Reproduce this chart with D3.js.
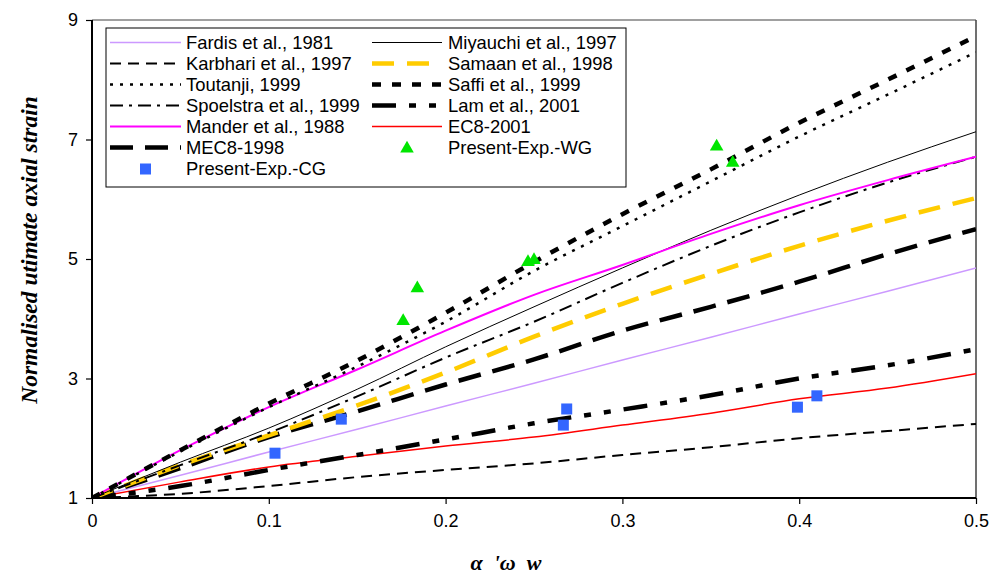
<!DOCTYPE html>
<html><head><meta charset="utf-8">
<script src="https://cdn.jsdelivr.net/npm/d3@7/dist/d3.min.js"></script>
<style>
html,body{margin:0;padding:0;background:#fff;}
svg{display:block;}
</style></head>
<body>
<svg id="chart" width="993" height="576"></svg>
<script>
// ---- data ----
const xValues   = [0, 0.05, 0.1, 0.15, 0.2, 0.25, 0.3, 0.35, 0.4, 0.45, 0.5];
const fardis    = [1, 1.38, 1.77, 2.15, 2.54, 2.92, 3.31, 3.69, 4.08, 4.46, 4.85];
const miyauchi  = [1, 1.6, 2.17, 2.82, 3.53, 4.2, 4.85, 5.48, 6.07, 6.62, 7.13];
const karbhari  = [1, 1.07, 1.2, 1.35, 1.47, 1.58, 1.72, 1.85, 2.0, 2.12, 2.24];
const samaan    = [1, 1.55, 2.05, 2.55, 3.1, 3.7, 4.25, 4.75, 5.22, 5.64, 6.02];
const toutanji  = [1, 1.78, 2.52, 3.2, 3.95, 4.8, 5.55, 6.3, 7.05, 7.75, 8.46];
const saffi     = [1, 1.8, 2.58, 3.3, 4.1, 4.95, 5.75, 6.5, 7.28, 8.0, 8.73];
const spoelstra = [1, 1.55, 2.09, 2.7, 3.35, 3.95, 4.6, 5.22, 5.78, 6.28, 6.71];
const lam       = [1, 1.2, 1.47, 1.72, 1.98, 2.25, 2.48, 2.72, 3.0, 3.22, 3.49];
const mander    = [1, 1.8, 2.52, 3.15, 3.8, 4.4, 4.9, 5.42, 5.9, 6.32, 6.71];
const ec8       = [1, 1.27, 1.52, 1.7, 1.87, 2.02, 2.22, 2.42, 2.66, 2.84, 3.08];
const mec8      = [1, 1.5, 2.02, 2.45, 2.9, 3.32, 3.8, 4.2, 4.62, 5.08, 5.5];

const wgX = [0.176, 0.184, 0.2466, 0.25, 0.3533, 0.3624];
const wgY = [3.96, 4.51, 4.95, 4.98, 6.88, 6.61];
const cgX = [0.1035, 0.141, 0.2666, 0.2685, 0.399, 0.41];
const cgY = [1.75, 2.32, 2.22, 2.49, 2.52, 2.71];

const xTicks = [0, 0.1, 0.2, 0.3, 0.4, 0.5];
const yTicks = [1, 3, 5, 7, 9];

const seriesNames = ["Fardis et al., 1981","Miyauchi et al., 1997","Karbhari et al., 1997","Samaan et al., 1998",
  "Toutanji, 1999","Saffi et al., 1999","Spoelstra et al., 1999","Lam et al., 2001",
  "Mander et al., 1988","EC8-2001","MEC8-1998"];
const seriesValues = [fardis, miyauchi, karbhari, samaan, toutanji, saffi, spoelstra, lam, mander, ec8, mec8];

// ---- styles ----
const styles = {
  "Fardis et al., 1981":   {color:"#CC99FF", width:1.5, dash:null},
  "Miyauchi et al., 1997": {color:"#000000", width:1, dash:null},
  "Karbhari et al., 1997": {color:"#000000", width:2, dash:"11,7"},
  "Samaan et al., 1998":   {color:"#FFCC00", width:4.5, dash:"22,13"},
  "Toutanji, 1999":        {color:"#000000", width:2.5, dash:"3,7"},
  "Saffi et al., 1999":    {color:"#000000", width:4.5, dash:"9,11"},
  "Spoelstra et al., 1999":{color:"#000000", width:2, dash:"13,6,3,6"},
  "Lam et al., 2001":      {color:"#000000", width:4.5, dash:"24,13,7,13,7,13"},
  "Mander et al., 1988":   {color:"#FF00FF", width:2, dash:null},
  "EC8-2001":              {color:"#FF0000", width:1.5, dash:null},
  "MEC8-1998":             {color:"#000000", width:4.5, dash:"23,12"}
};
const drawOrder = ["Fardis et al., 1981","Karbhari et al., 1997","EC8-2001","Lam et al., 2001","MEC8-1998",
  "Samaan et al., 1998","Spoelstra et al., 1999","Miyauchi et al., 1997","Mander et al., 1988",
  "Toutanji, 1999","Saffi et al., 1999"];

const SANS = "'Liberation Sans', Arial, sans-serif";
const SERIF = "'Liberation Serif', 'Times New Roman', serif";

const svg = d3.select("#chart");
const pLeft = 92, pRight = 976, pTop = 20, pBottom = 498;
const x = d3.scaleLinear().domain([0, 0.5]).range([pLeft, pRight]);
const y = d3.scaleLinear().domain([1, 9]).range([pBottom, pTop]);

// frame
svg.append("line").attr("x1",pLeft).attr("x2",pRight).attr("y1",pTop).attr("y2",pTop)
  .attr("stroke","#808080").attr("stroke-width",1.5);
svg.append("line").attr("x1",pRight).attr("x2",pRight).attr("y1",pTop).attr("y2",pBottom)
  .attr("stroke","#404040").attr("stroke-width",1.5);

svg.append("clipPath").attr("id","clip").append("rect")
  .attr("x",pLeft).attr("y",pTop).attr("width",pRight-pLeft).attr("height",pBottom-pTop);

const line = d3.line().x(d=>x(d[0])).y(d=>y(d[1])).curve(d3.curveMonotoneX);
const plot = svg.append("g").attr("clip-path","url(#clip)");
drawOrder.forEach(name=>{
  const vals = seriesValues[seriesNames.indexOf(name)];
  const st = styles[name];
  plot.append("path").datum(xValues.map((xv,i)=>[xv, vals[i]]))
    .attr("d", line).attr("fill","none")
    .attr("stroke", st.color).attr("stroke-width", st.width)
    .attr("stroke-dasharray", st.dash);
});

// markers
const tri = d3.symbol().type(d3.symbolTriangle).size(80);
svg.append("g").selectAll("path").data(wgX.map((v,i)=>[v,wgY[i]])).join("path")
  .attr("d", tri).attr("transform", d=>`translate(${x(d[0])},${y(d[1])})`).attr("fill","#00E600");
svg.append("g").selectAll("rect").data(cgX.map((v,i)=>[v,cgY[i]])).join("rect")
  .attr("x", d=>x(d[0])-5.5).attr("y", d=>y(d[1])-5.5).attr("width",11).attr("height",11)
  .attr("fill","#3366FF");

// axes
const xAxis = svg.append("g").attr("transform",`translate(0,${pBottom})`)
  .call(d3.axisBottom(x).tickValues(xTicks).tickSize(6).tickPadding(10).tickFormat(d3.format("")));
const yAxis = svg.append("g").attr("transform",`translate(${pLeft},0)`)
  .call(d3.axisLeft(y).tickValues(yTicks).tickSize(6).tickPadding(8).tickFormat(d3.format("d")));
[xAxis,yAxis].forEach(a=>{
  a.select(".domain").attr("stroke","#000").attr("stroke-width",2);
  a.selectAll(".tick line").attr("stroke","#000").attr("stroke-width",1.2);
  a.selectAll(".tick text").style("font-size","18px").attr("fill","#000")
    .style("font-family",SANS);
});
yAxis.select(".domain").attr("d",`M0,${pTop}V${pBottom}`);
xAxis.select(".domain").attr("d",`M${pLeft},0H${pRight}`);

// axis titles
svg.append("text").attr("transform","translate(37,250) rotate(-90)")
  .attr("text-anchor","middle").style("font-family",SERIF)
  .style("font-style","italic").style("font-weight","bold").style("font-size","23.5px")
  .text("Normalised utimate axial strain");
svg.append("text").attr("x",506).attr("y",570).attr("text-anchor","middle")
  .style("font-family",SERIF).style("white-space","pre")
  .style("font-style","italic").style("font-weight","bold").style("font-size","22px")
  .text("α  'ω  w");

// legend
const lg = svg.append("g");
lg.append("rect").attr("x",106).attr("y",28).attr("width",520).attr("height",159)
  .attr("fill","#fff").attr("stroke","#000").attr("stroke-width",1);
const legendItems = [...seriesNames, "Present-Exp.-WG", "Present-Exp.-CG"];
legendItems.forEach((name,i)=>{
  const col = i % 2, row = Math.floor(i/2);
  const sx0 = col===0 ? 110 : 372, sx1 = col===0 ? 181 : 442;
  const tx = col===0 ? 186 : 448;
  const cy = 42.5 + row*21;
  if (styles[name]) {
    const st = styles[name];
    lg.append("line").attr("x1",sx0).attr("x2",sx1).attr("y1",cy).attr("y2",cy)
      .attr("stroke",st.color).attr("stroke-width",st.width).attr("stroke-dasharray",st.dash);
  } else if (name === "Present-Exp.-WG") {
    lg.append("path").attr("d",tri).attr("transform",`translate(${(sx0+sx1)/2},${cy+1})`).attr("fill","#00E600");
  } else {
    lg.append("rect").attr("x",(sx0+sx1)/2-5.5).attr("y",cy-5).attr("width",11).attr("height",11).attr("fill","#3366FF");
  }
  lg.append("text").attr("x",tx).attr("y",cy+6.5).style("font-size","18.4px").style("font-family",SANS)
    .attr("fill","#000").text(name);
});
</script>
</body></html>
